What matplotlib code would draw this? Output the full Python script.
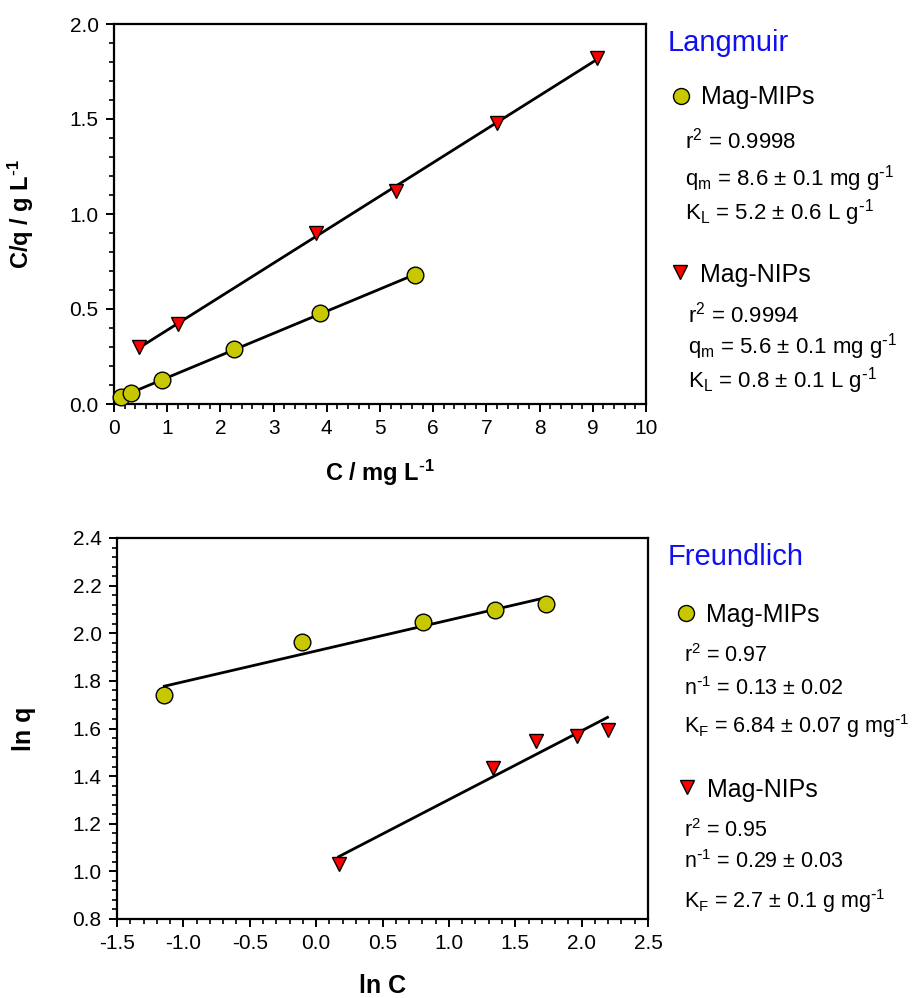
import numpy as np
import matplotlib
matplotlib.use("Agg")
import matplotlib.pyplot as plt
from matplotlib.lines import Line2D
from matplotlib.ticker import MultipleLocator, FormatStrFormatter

plt.rcParams['font.family'] = ['Liberation Sans', 'DejaVu Sans']
plt.rcParams['mathtext.default'] = 'regular'

# ---- Data: Langmuir (C vs C/q) ----
lang_mip_C = [0.135, 0.325, 0.90, 2.25, 3.88, 5.66]
lang_mip_Cq = [0.039, 0.056, 0.126, 0.289, 0.477, 0.679]
lang_nip_C = [0.47, 1.20, 3.80, 5.30, 7.19, 9.07]
lang_nip_Cq = [0.30, 0.42, 0.898, 1.123, 1.48, 1.82]

# ---- Data: Freundlich (ln C vs ln q) ----
fr_mip_lnC = [-1.143, -0.108, 0.808, 1.351, 1.73]
fr_mip_lnq = [1.740, 1.962, 2.049, 2.097, 2.122]
fr_nip_lnC = [0.17, 1.332, 1.66, 1.965, 2.195]
fr_nip_lnq = [1.033, 1.434, 1.546, 1.570, 1.595]

SUP = r'$^{\text{-}1}$'
lang_mip_text = ['r$^{2}$ = 0.9998', 'q$_{m}$ = 8.6 ± 0.1 mg g' + SUP, 'K$_{L}$ = 5.2 ± 0.6 L g' + SUP]
lang_nip_text = ['r$^{2}$ = 0.9994', 'q$_{m}$ = 5.6 ± 0.1 mg g' + SUP, 'K$_{L}$ = 0.8 ± 0.1 L g' + SUP]
fr_mip_text = ['r$^{2}$ = 0.97', 'n' + SUP + ' = 0.13 ± 0.02', 'K$_{F}$ = 6.84 ± 0.07 g mg' + SUP]
fr_nip_text = ['r$^{2}$ = 0.95', 'n' + SUP + ' = 0.29 ± 0.03', 'K$_{F}$ = 2.7 ± 0.1 g mg' + SUP]

MIP_COLOR = '#C8C800'
NIP_COLOR = '#FF0000'

W, H = 920, 998
fig = plt.figure(figsize=(W / 100, H / 100), dpi=100)

def fx(px):
    return px / W

def fy(py):
    return 1 - py / H

ax1 = fig.add_axes([fx(114), fy(404), 532 / W, 380 / H])
ax2 = fig.add_axes([fx(117), fy(919), 531 / W, 381 / H])

def style_axes(ax):
    for s in ax.spines.values():
        s.set_linewidth(1.6)
    ax.tick_params(which='major', direction='out', length=6, width=1.4, labelsize=15,
                   top=False, right=False, pad=5)
    ax.tick_params(which='minor', direction='out', length=3.5, width=1.2,
                   top=False, right=False)

def fit_line(ax, x, y):
    x = np.asarray(x); y = np.asarray(y)
    k, b = np.polyfit(x, y, 1)
    xs = np.array([x.min(), x.max()])
    ax.plot(xs, k * xs + b, color='black', lw=2.0, zorder=2)

# Top: Langmuir
fit_line(ax1, lang_mip_C, lang_mip_Cq)
fit_line(ax1, lang_nip_C, lang_nip_Cq)
ax1.plot(lang_mip_C, lang_mip_Cq, 'o', ms=12, mfc=MIP_COLOR, mec='black', mew=1.0, zorder=3, clip_on=False)
ax1.plot(lang_nip_C, lang_nip_Cq, 'v', ms=9.5, mfc=NIP_COLOR, mec='black', mew=1.0, zorder=3, clip_on=False)
ax1.set_xlim(0, 10)
ax1.set_ylim(0, 2.0)
ax1.xaxis.set_major_locator(MultipleLocator(1))
ax1.xaxis.set_minor_locator(MultipleLocator(0.2))
ax1.yaxis.set_major_locator(MultipleLocator(0.5))
ax1.yaxis.set_minor_locator(MultipleLocator(0.1))
ax1.yaxis.set_major_formatter(FormatStrFormatter('%.1f'))
style_axes(ax1)
ax1.set_xlabel('C / mg L' + SUP, fontsize=17, fontweight='bold')
ax1.set_ylabel('C/q / g L' + SUP, fontsize=17, fontweight='bold')
ax1.xaxis.set_label_coords(0.5, (404 - 458) / 380)
ax1.yaxis.set_label_coords((36 - 114) / 532, 0.5)

# Bottom: Freundlich
fit_line(ax2, fr_mip_lnC, fr_mip_lnq)
fit_line(ax2, fr_nip_lnC, fr_nip_lnq)
ax2.plot(fr_mip_lnC, fr_mip_lnq, 'o', ms=12, mfc=MIP_COLOR, mec='black', mew=1.0, zorder=3)
ax2.plot(fr_nip_lnC, fr_nip_lnq, 'v', ms=9.5, mfc=NIP_COLOR, mec='black', mew=1.0, zorder=3)
ax2.set_xlim(-1.5, 2.5)
ax2.set_ylim(0.8, 2.4)
ax2.xaxis.set_major_locator(MultipleLocator(0.5))
ax2.xaxis.set_minor_locator(MultipleLocator(0.1))
ax2.yaxis.set_major_locator(MultipleLocator(0.2))
ax2.yaxis.set_minor_locator(MultipleLocator(0.04))
ax2.xaxis.set_major_formatter(FormatStrFormatter('%.1f'))
ax2.yaxis.set_major_formatter(FormatStrFormatter('%.1f'))
style_axes(ax2)
ax2.set_xlabel('ln C', fontsize=18, fontweight='bold')
ax2.set_ylabel('ln q', fontsize=18, fontweight='bold')
ax2.xaxis.set_label_coords(0.5, (919 - 974) / 381)
ax2.yaxis.set_label_coords((36 - 117) / 531, 0.5)

# Annotations
def title(x, y, s):
    fig.text(fx(x), fy(y), s, color='#1010F0', fontsize=21, va='baseline', ha='left')

def sym(x, y, marker, color, ms):
    fig.add_artist(Line2D([fx(x)], [fy(y)], transform=fig.transFigure, marker=marker,
                          ms=ms, mfc=color, mec='black', mew=1.0, linestyle='none'))

def group(xs, ysym, yname, name, marker, color, ms, xt, ylines, lines, fs=16):
    sym(xs, ysym, marker, color, ms)
    fig.text(fx(xs + 20), fy(yname), name, fontsize=18, va='baseline', ha='left')
    for yl, t in zip(ylines, lines):
        fig.text(fx(xt), fy(yl), t, fontsize=fs, va='baseline', ha='left')

title(668, 51, 'Langmuir')
group(681, 96, 104, 'Mag-MIPs', 'o', MIP_COLOR, 11.5, 685, [148, 186, 220], lang_mip_text)
group(680, 272, 282, 'Mag-NIPs', 'v', NIP_COLOR, 9.5, 688, [322, 353, 388], lang_nip_text)

title(668, 565, 'Freundlich')
group(686, 613, 622, 'Mag-MIPs', 'o', MIP_COLOR, 11.5, 684, [662, 695, 733], fr_mip_text, fs=15.5)
group(687, 787, 797, 'Mag-NIPs', 'v', NIP_COLOR, 9.5, 684, [837, 868, 908], fr_nip_text, fs=15.5)

fig.savefig('out.png', dpi=100)
